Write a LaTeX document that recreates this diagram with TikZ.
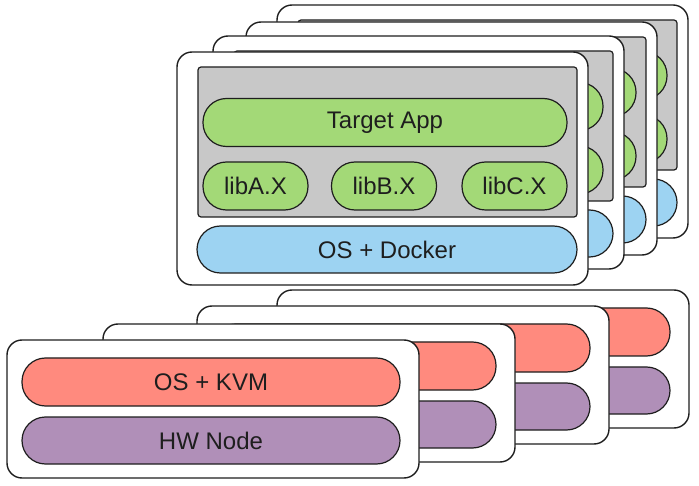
\documentclass[tikz,border=0pt]{standalone}
\usepackage{fontspec}
\setmainfont{Liberation Sans}

\definecolor{appgreen}{HTML}{A3D977}
\definecolor{dockblue}{HTML}{9DD3F2}
\definecolor{kvmred}{HTML}{FF8A7E}
\definecolor{hwpurple}{HTML}{B08FB8}
\definecolor{panelgray}{HTML}{C8C8C8}
\definecolor{edge}{HTML}{1E1E1E}

% label shown on the front host only
\newcommand{\frontlabel}[1]{\ifnum\i=1 #1\fi}

\begin{document}
\begin{tikzpicture}[x=1pt,y=-1pt,
    card/.style={draw=edge,line width=1.4pt,fill=white,rounded corners=15pt},
    panel/.style={draw=edge,line width=1.2pt,fill=panelgray,rounded corners=3pt},
    bar/.style={draw=edge,line width=1.2pt,rounded corners=23.5pt,inner sep=0pt,
      minimum height=48pt,text=edge,font=\fontsize{24}{28}\selectfont}]
    \useasboundingbox (0,0) rectangle (699,486);

    % docker hosts, back to front
    \foreach \i/\x/\y in {4/277/5,3/246/22,2/213/36,1/177/52}{
      \begin{scope}[shift={(\x,\y)}]
        \draw[card] (0,0) rectangle (411,233);
        \draw[panel] (21,15) rectangle (400,165);
        \node[bar,fill=appgreen,minimum width=364pt] (app\i) at (208,70.5) {\frontlabel{Target App}};
        \node[bar,fill=appgreen,minimum width=105pt] (liba\i) at (78.5,134) {\frontlabel{libA.X}};
        \node[bar,fill=appgreen,minimum width=105pt] (libb\i) at (207,134) {\frontlabel{libB.X}};
        \node[bar,fill=appgreen,minimum width=105pt] (libc\i) at (337.5,134) {\frontlabel{libC.X}};
        \node[bar,fill=dockblue,minimum width=380pt,minimum height=47pt] (docker\i) at (210,197.5) {\frontlabel{OS + Docker}};
      \end{scope}
    }

    % kvm hosts, back to front
    \foreach \i/\x/\y in {4/277/290,3/197/306,2/103/324,1/7/340}{
      \begin{scope}[shift={(\x,\y)}]
        \draw[card] (0,0) rectangle (412,138);
        \node[bar,fill=kvmred,minimum width=378pt] (kvm\i) at (204,42) {\frontlabel{OS + KVM}};
        \node[bar,fill=hwpurple,minimum width=378pt,minimum height=47pt] (hw\i) at (204,100.5) {\frontlabel{HW Node}};
      \end{scope}
    }
  \end{tikzpicture}
\end{document}
